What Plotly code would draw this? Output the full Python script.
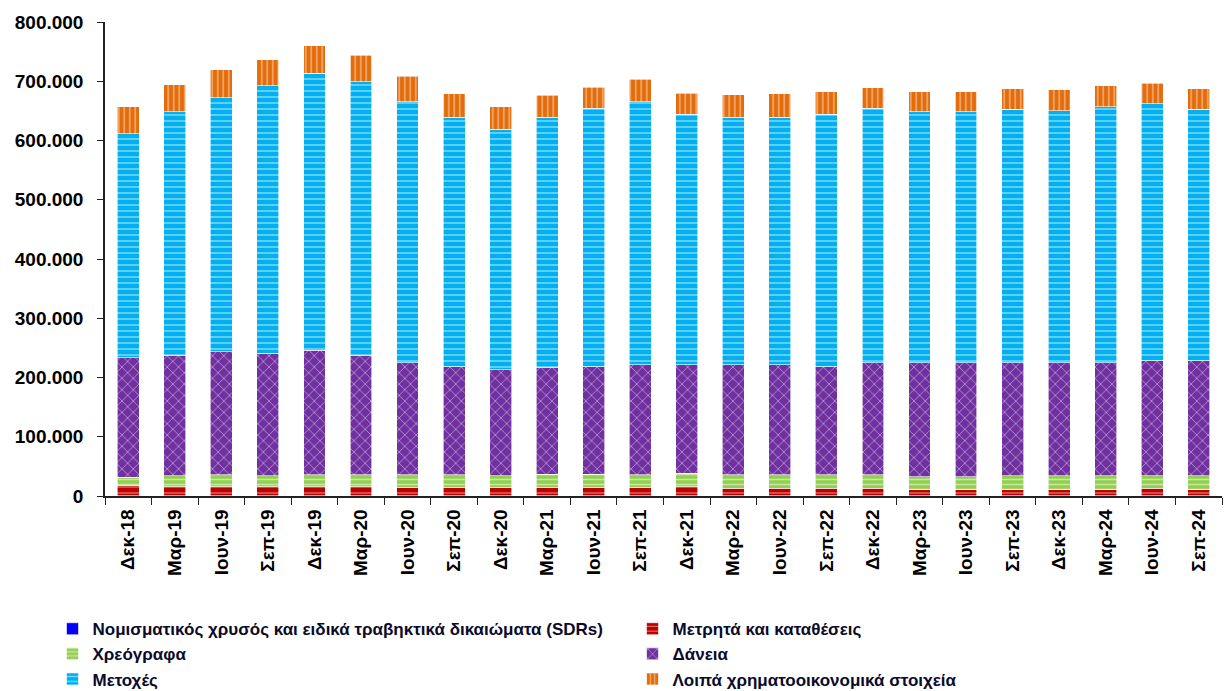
import plotly.graph_objects as go

categories = ["Δεκ-18", "Μαρ-19", "Ιουν-19", "Σεπ-19", "Δεκ-19", "Μαρ-20", "Ιουν-20", "Σεπ-20",
              "Δεκ-20", "Μαρ-21", "Ιουν-21", "Σεπ-21", "Δεκ-21", "Μαρ-22", "Ιουν-22", "Σεπ-22",
              "Δεκ-22", "Μαρ-23", "Ιουν-23", "Σεπ-23", "Δεκ-23", "Μαρ-24", "Ιουν-24", "Σεπ-24"]

gold_sdr = [300, 300, 300, 300, 300, 300, 300, 300, 300, 300, 300, 300,
            300, 300, 300, 300, 300, 300, 300, 300, 300, 300, 300, 300]
cash = [17400, 15700, 15700, 15700, 15700, 15700, 14000, 14000, 14000, 14000, 14000, 14000,
        15700, 13000, 13000, 13000, 13000, 10000, 10000, 10000, 10000, 10000, 13000, 10000]
securities = [13600, 18100, 19700, 18100, 19700, 19700, 21400, 21400, 19800, 22600, 22600, 21400,
              22500, 22400, 22400, 22400, 22400, 22600, 22600, 23800, 23800, 23800, 20800, 23800]
loans = [202000, 203200, 208100, 207200, 210600, 201600, 189600, 182600, 178900, 180000, 181400, 185600,
         182800, 185600, 185600, 182600, 189600, 192400, 192400, 191200, 191200, 191200, 194200, 194200]
shares = [378000, 411600, 428500, 451000, 467000, 462000, 440500, 421000, 406300, 422400, 436000, 444500,
          423000, 418000, 418000, 426000, 429000, 423600, 423600, 427600, 425000, 432000, 433600, 424600]
other = [46000, 45400, 47000, 44000, 47000, 45000, 42500, 39500, 38000, 37000, 36000, 37500,
         35600, 37800, 39500, 38000, 35000, 33400, 33400, 34400, 35000, 35000, 34400, 34400]

names = ["Νομισματικός χρυσός και ειδικά τραβηκτικά δικαιώματα (SDRs)",
         "Μετρητά και καταθέσεις",
         "Χρεόγραφα",
         "Δάνεια",
         "Μετοχές",
         "Λοιπά χρηματοοικονομικά στοιχεία"]

series = [gold_sdr, cash, securities, loans, shares, other]
colors = ["#0000FF", "#C00000", "#92D050", "#7030A0", "#00B0F0", "#E46C0A"]
patterns = ["", "-", "-", "x", "-", "|"]
psizes = [6, 6, 5, 8, 6, 5.5]
psol = [0.3, 0.2, 0.3, 0.2, 0.25, 0.25]

fig = go.Figure()
for nm, vals, col, pat, ps, so in zip(names, series, colors, patterns, psizes, psol):
    fig.add_trace(go.Bar(
        x=categories, y=vals, name=nm,
        marker=dict(color=col, line=dict(color="white", width=0.6),
                    pattern=dict(shape=pat, fgcolor="white", bgcolor=col, size=ps, solidity=so)),
    ))

fig.update_layout(
    barmode="stack",
    bargap=0.53,
    width=1224, height=691,
    margin=dict(l=105, r=2, t=22, b=195, autoexpand=False),
    plot_bgcolor="white", paper_bgcolor="white",
    separators=",.",
    font=dict(family="Liberation Sans, Arial, sans-serif", color="black"),
    legend=dict(orientation="h", x=-0.047, xanchor="left", y=-0.243, yanchor="top",
                entrywidth=535, entrywidthmode="pixels",
                font=dict(family="Liberation Sans, Arial", size=17, color="#0a0a2a", weight="bold"),
                itemwidth=30, tracegroupgap=0, traceorder="normal"),
    showlegend=True,
)
fig.update_yaxes(range=[0, 800000], dtick=100000, tickformat=",.0f",
                 showline=True, linecolor="#222222", linewidth=1.5, ticks="outside", ticklen=6,
                 tickcolor="#222222", showgrid=False, zeroline=False, ticklabelstandoff=10,
                 tickfont=dict(size=19, family="Liberation Sans, Arial", weight="bold"))
fig.update_xaxes(showline=True, linecolor="#222222", linewidth=1.5, ticks="outside", ticklen=7,
                 tickcolor="#222222", tickson="boundaries", tickangle=-90, showgrid=False,
                 ticklabelstandoff=4,
                 tickfont=dict(size=19, family="Liberation Sans, Arial", weight="bold"))

fig.write_html("out.html", config={"displayModeBar": False},
               post_script="document.body.style.margin='0';document.body.style.overflow='hidden';")
